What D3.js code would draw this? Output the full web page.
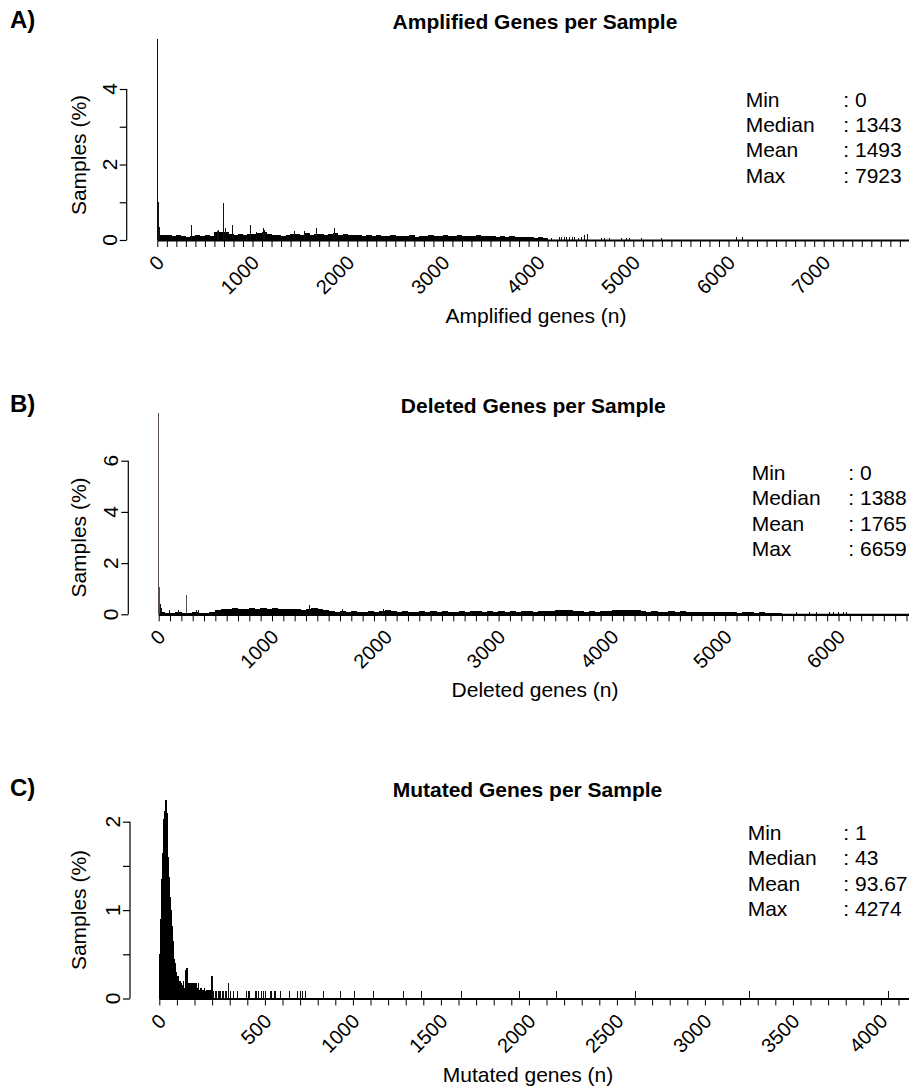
<!DOCTYPE html>
<html><head><meta charset="utf-8">
<script src="https://cdn.jsdelivr.net/npm/d3@7"></script>
<style>
html,body{margin:0;padding:0;background:#fff;}
svg{display:block;font-family:"Liberation Sans",Arial,Helvetica,sans-serif;}
</style></head><body>
<svg id="chart" width="909" height="1090"></svg>
<script>
// ---------------- DATA ----------------
// A) Amplified genes: dense band in 50-gene bins (percent of samples), plus single-value bars
const ampBinWidth = 50;
const ampBand = [0.14,0.12,0.13,0.10,0.12,0.10,0.08,0.10,0.12,0.10,
  0.12,0.11,0.20,0.22,0.20,0.16,0.14,0.15,0.13,0.16,
  0.15,0.18,0.20,0.16,0.12,0.12,0.10,0.13,0.15,0.17,
  0.14,0.18,0.14,0.17,0.15,0.14,0.16,0.18,0.14,0.15,
  0.13,0.12,0.13,0.11,0.12,0.10,0.12,0.10,0.11,0.12,
  0.10,0.11,0.10,0.12,0.09,0.11,0.10,0.12,0.10,0.11,
  0.12,0.10,0.11,0.12,0.10,0.11,0.10,0.12,0.10,0.11,
  0.10,0.09,0.10,0.08,0.10,0.09,0.08,0.07,0.08,0.06,0.07,0.05];
const ampBars = [[0,5.32],[3,1.05],[8,1.0],[14,0.7],[20,0.35],[26,0.25],
  [361,0.40],[630,0.25],[645,0.26],[693,0.97],[721,0.33],[791,0.40],[980,0.40],
  [1045,0.22],[1113,0.33],[1130,0.27],[1445,0.25],[1550,0.24],[1672,0.33],[1865,0.33],
  [4138,0.06],[4226,0.08],[4250,0.08],[4278,0.08],[4300,0.08],[4331,0.08],[4360,0.08],
  [4383,0.08],[4420,0.06],[4453,0.08],[4488,0.12],[4523,0.16],[4663,0.06],[4698,0.06],
  [4750,0.05],[4873,0.05],[4925,0.05],[4960,0.05],[5083,0.05],[5299,0.05],[6080,0.07],[6143,0.07]];
const ampMax = 7923;
const ampTickLabels = ["0","1000","2000","3000","4000","5000","6000","7000"];
const ampTickPos = [0,1000,2000,3000,4000,5000,6000,7000];
const ampStatNames = ["Min","Median","Mean","Max"];
const ampStatValues = ["0","1343","1493","7923"];

// B) Deleted genes
const delBinWidth = 50;
const delBand = [0.09,0.06,0.07,0.08,0.06,0.07,0.09,0.07,0.06,0.08,
  0.18,0.22,0.20,0.24,0.22,0.20,0.25,0.22,0.24,0.20,0.23,0.21,0.19,0.22,0.20,0.18,0.22,0.24,0.20,0.18,
  0.12,0.10,0.14,0.10,0.12,0.09,0.10,0.12,0.10,0.14,0.16,0.12,0.10,0.11,0.09,0.10,0.12,0.10,0.11,0.09,0.12,0.10,
  0.10,0.12,0.10,0.11,0.13,0.10,0.12,0.10,0.11,0.10,0.12,0.10,0.11,0.13,0.10,0.12,0.14,0.12,
  0.18,0.16,0.18,0.14,0.12,0.10,0.12,0.10,0.11,0.12,
  0.16,0.18,0.15,0.17,0.16,0.14,
  0.10,0.12,0.10,0.09,0.11,0.10,0.12,0.09,0.10,0.08,0.10,0.09,0.08,0.10,0.09,0.08,0.07,0.09,0.08,0.07,0.08,0.06,0.07,0.06];
const delBars = [[0,7.87],[3,1.08],[8,0.8],[14,0.4],[22,0.25],[98,0.15],[172,0.15],[247,0.74],
  [330,0.15],[350,0.15],[1335,0.35],[1620,0.20],[1980,0.20],
  [5630,0.08],[5747,0.08],[5806,0.08],[5924,0.08],[5960,0.08],[6000,0.08],[6040,0.08],[6072,0.08]];
const delMax = 6659;
const delTickLabels = ["0","1000","2000","3000","4000","5000","6000"];
const delTickPos = [0,1000,2000,3000,4000,5000,6000];
const delStatNames = ["Min","Median","Mean","Max"];
const delStatValues = ["0","1388","1765","6659"];

// C) Mutated genes: 5-gene bins for the dense part, then single-value bars
const mutBinWidth = 5;
const mutDense = [0.50,0.90,1.35,1.65,2.00,2.03,2.12,2.25,2.10,1.85,
  1.60,1.38,1.15,1.00,0.82,0.65,0.45,0.42,0.40,0.30,
  0.23,0.26,0.17,0.20,0.14,0.18,0.15,0.20,0.12,0.18,
  0.32,0.35,0.15,0.18,0.12,0.18,0.18,0.12,0.18,0.15,
  0.18,0.10,0.18,0.12,0.18,0.10,0.08,0.12,0.08,0.10,
  0.08,0.12,0.08,0.10,0.08,0.10,0.08,0.10,0.08,0.26];
const mutBars = [[305,0.25],[310,0.08],[318,0.08],[326,0.08],[335,0.09],[342,0.09],[350,0.09],
  [358,0.09],[366,0.09],[375,0.09],[383,0.09],[396,0.17],[405,0.09],[421,0.09],[444,0.09],
  [496,0.09],[505,0.09],[515,0.09],[544,0.09],[553,0.09],[563,0.09],[582,0.09],[592,0.09],
  [601,0.09],[629,0.09],[640,0.09],[652,0.09],[663,0.09],[686,0.09],[739,0.09],[786,0.09],
  [800,0.09],[815,0.09],[828,0.09],[932,0.09],[1027,0.09],[1110,0.09],[1216,0.09],[1386,0.09],
  [1491,0.09],[1718,0.09],[2049,0.09],[2258,0.09],[2703,0.09],[3356,0.09],[4142,0.09]];
const mutMax = 4274;
const mutTickLabels = ["0","500","1000","1500","2000","2500","3000","3500","4000"];
const mutTickPos = [0,600,1100,1600,2100,2600,3100,3600,4100];
const mutStatNames = ["Min","Median","Mean","Max"];
const mutStatValues = ["1","43","93.67","4274"];

// ---------------- LAYOUT ----------------
const panels = [
  {tag:"A)", title:"Amplified Genes per Sample", xTitle:"Amplified genes (n)",
   band:ampBand, binW:ampBinWidth, bars:ampBars, max:ampMax,
   tickLabels:ampTickLabels, tickPos:ampTickPos, statN:ampStatNames, statV:ampStatValues,
   x0:157.3, ppg:0.0952, y0:240, ppp:37.75, axisX:126.7, yTicks:[0,1,2,3,4], yLab:[0,2,4],
   titleX:535, titleY:29.3, yTitleY:155, xTitleX:536, statX:745.7, colonX:843.3, statY:106.7},
  {tag:"B)", title:"Deleted Genes per Sample", xTitle:"Deleted genes (n)",
   band:delBand, binW:delBinWidth, bars:delBars, max:delMax,
   tickLabels:delTickLabels, tickPos:delTickPos, statN:delStatNames, statV:delStatValues,
   x0:158.7, ppg:0.1133, y0:614.3, ppp:25.6, axisX:128.3, yTicks:[0,2,4,6], yLab:[0,2,4,6],
   titleX:533.3, titleY:413, yTitleY:537.5, xTitleX:535, statX:751.7, colonX:848.3, statY:480},
  {tag:"C)", title:"Mutated Genes per Sample", xTitle:"Mutated genes (n)",
   band:mutDense, binW:mutBinWidth, bars:mutBars, max:mutMax,
   tickLabels:mutTickLabels, tickPos:mutTickPos, statN:mutStatNames, statV:mutStatValues,
   x0:159.3, ppg:0.176, y0:998.5, ppp:88.4, axisX:130, yTicks:[0,0.5,1,1.5,2], yLab:[0,1,2],
   titleX:527.5, titleY:796.7, yTitleY:910, xTitleX:528, statX:747.7, colonX:843.3, statY:840}
];

const svg = d3.select("#chart");
const ink = "#000";

panels.forEach(p => {
  const g = svg.append("g");
  const x = d3.scaleLinear().domain([0, p.max]).range([p.x0, p.x0 + p.max * p.ppg]);
  const yMaxTick = d3.max(p.yTicks);
  const y = d3.scaleLinear().domain([0, yMaxTick]).range([p.y0, p.y0 - yMaxTick * p.ppp]);

  // band bins (drawn slightly overlapping so the dense bars read as solid black)
  g.append("g").attr("shape-rendering", "crispEdges")
    .selectAll("rect").data(p.band).join("rect")
    .attr("x", (d,i) => x(i * p.binW) - 0.3)
    .attr("width", (d,i) => x((i+1) * p.binW) - x(i * p.binW) + 0.6)
    .attr("y", d => y(d))
    .attr("height", d => p.y0 - y(d))
    .attr("fill", ink);

  // single-value bars
  g.append("g").attr("shape-rendering", "crispEdges")
    .selectAll("rect").data(p.bars).join("rect")
    .attr("x", d => x(d[0]) - 0.5)
    .attr("width", 1)
    .attr("y", d => y(d[1]))
    .attr("height", d => p.y0 - y(d[1]))
    .attr("fill", d => (p.tag === "B)" && d[1] > 0.5) ? "#5b4b4b" : "#111");

  // baseline formed by zero-height bar borders
  g.append("line")
    .attr("x1", x(0)).attr("x2", x(p.max))
    .attr("y1", p.y0 + 0.5).attr("y2", p.y0 + 0.5)
    .attr("stroke", ink).attr("stroke-width", 2.2);

  // x axis minor ticks every 100 genes
  const xAxis = d3.axisBottom(x)
    .tickValues(d3.range(0, p.max + 1, 100))
    .tickSize(6).tickSizeOuter(0).tickFormat("");
  const xa = g.append("g").attr("transform", `translate(0,${p.y0 + 1})`).call(xAxis);
  xa.select(".domain").remove();
  xa.selectAll(".tick line").attr("stroke", ink).attr("stroke-width", 1);

  // rotated x tick labels
  g.append("g").selectAll("text").data(p.tickLabels).join("text")
    .attr("transform", (d,i) => `translate(${x(p.tickPos[i]) + 3},${p.y0 + 19}) rotate(-45)`)
    .attr("text-anchor", "end").attr("dominant-baseline", "central")
    .attr("font-size", 20).attr("fill", ink)
    .text(d => d);

  // y axis
  const yAxis = d3.axisLeft(y).tickValues(p.yTicks).tickSize(7).tickSizeOuter(0).tickFormat("");
  const ya = g.append("g").attr("transform", `translate(${p.axisX},0)`).call(yAxis);
  ya.select(".domain").attr("stroke", ink).attr("stroke-width", 1.2)
    .attr("d", `M0,${y(yMaxTick)}V${y(0)}`);
  ya.selectAll(".tick line").attr("stroke", ink).attr("stroke-width", 1.2);

  g.append("g").selectAll("text").data(p.yLab).join("text")
    .attr("transform", d => `translate(${p.axisX - 10},${y(d)}) rotate(-90)`)
    .attr("text-anchor", "middle").attr("font-size", 21).attr("fill", ink)
    .text(d => d);

  // axis titles
  g.append("text")
    .attr("transform", `translate(86,${p.yTitleY}) rotate(-90)`)
    .attr("text-anchor", "middle").attr("font-size", 21).attr("fill", ink)
    .text("Samples (%)");
  g.append("text")
    .attr("x", p.xTitleX).attr("y", p.y0 + 83)
    .attr("text-anchor", "middle").attr("font-size", 21).attr("fill", ink)
    .text(p.xTitle);

  // titles & panel tag
  g.append("text").attr("x", p.titleX).attr("y", p.titleY)
    .attr("text-anchor", "middle").attr("font-size", 21).attr("font-weight", "bold").attr("fill", ink)
    .text(p.title);
  g.append("text").attr("x", 10).attr("y", p.titleY - 1)
    .attr("font-size", 24).attr("font-weight", "bold").attr("fill", ink)
    .text(p.tag);

  // summary statistics
  const st = g.append("g");
  st.selectAll("text.n").data(p.statN).join("text").attr("class","n")
    .attr("x", p.statX).attr("y", (d,i) => p.statY + i * 25.3)
    .attr("font-size", 21).attr("fill", ink).text(d => d);
  st.selectAll("text.v").data(p.statV).join("text").attr("class","v")
    .attr("x", p.colonX).attr("y", (d,i) => p.statY + i * 25.3)
    .attr("font-size", 21).attr("fill", ink).text(d => ": " + d);
});
</script>
</body></html>
